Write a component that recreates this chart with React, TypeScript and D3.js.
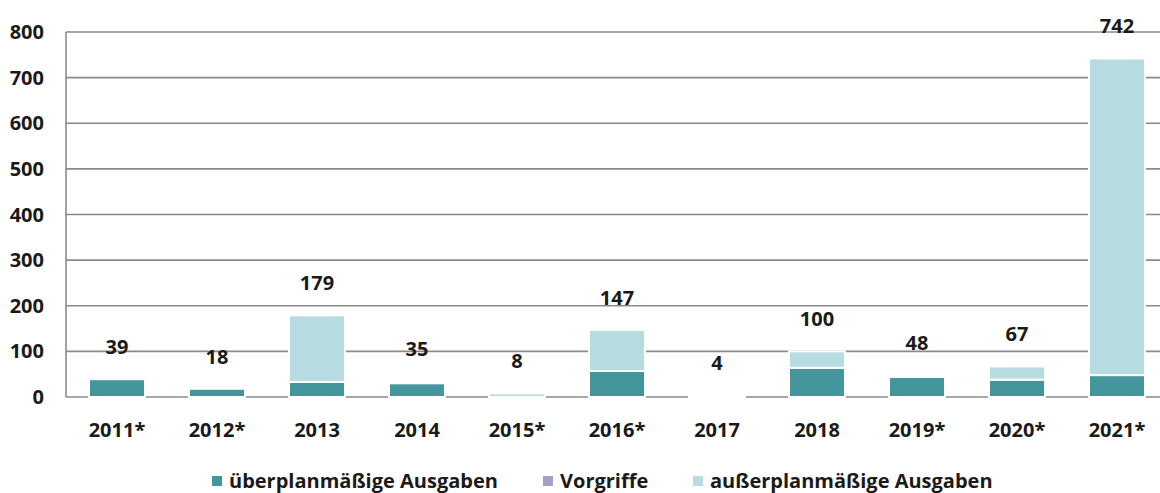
import React from "react";
import * as d3 from "d3";

const categories = ["2011*", "2012*", "2013", "2014", "2015*", "2016*", "2017", "2018", "2019*", "2020*", "2021*"];
const ueberplan = [39, 18, 33, 30, 0, 57, 0, 64, 44, 38, 48];
const vorgriffe = [0, 0, 0, 0, 0, 0, 0, 0, 0, 0, 0];
const ausserplan = [0, 0, 146, 0, 8, 90, 4, 36, 4, 29, 694];
const totals = [39, 18, 179, 35, 8, 147, 4, 100, 48, 67, 742];
const yTicks = [0, 100, 200, 300, 400, 500, 600, 700, 800];
const seriesNames = ["überplanmäßige Ausgaben", "Vorgriffe", "außerplanmäßige Ausgaben"];
const seriesColors = ["#45959c", "#ab9cc8", "#b6dce2"];

const W = 1160;
const H = 493;
const FONT = "'Open Sans', sans-serif";

export default function App() {
  const x = d3.scaleBand<string>().domain(categories).range([67, 1167]).paddingInner(0.44).paddingOuter(0.22);
  const y = d3.scaleLinear().domain([0, 800]).range([397, 32]);

  const rows = categories.map((c, i) => ({ cat: c, s0: ueberplan[i], s1: vorgriffe[i], s2: ausserplan[i] }));
  const stack = d3.stack<any>().keys(["s0", "s1", "s2"]);
  const layers = stack(rows);

  const legendX = [212, 543, 693];

  return (
    <svg width={W} height={H} style={{ position: "absolute", left: 0, top: 0, background: "#fff" }}>
      <rect x={0} y={0} width={W} height={H} fill="#fff" />
      {yTicks.map((t) => (
        <g key={t}>
          <line x1={66} x2={W} y1={y(t)} y2={y(t)} stroke="#8a8a8a" strokeWidth={1.6} />
          <text x={44} y={y(t)} dy="0.35em" textAnchor="end" fontFamily={FONT} fontWeight={700} fontSize={20} fill="#1a1a1a">
            {t}
          </text>
        </g>
      ))}
      <line x1={66} x2={66} y1={y(800)} y2={y(0)} stroke="#8a8a8a" strokeWidth={1.6} />
      {layers.map((layer, li) => (
        <g key={li}>
          {layer.map((d, i) => {
            const h = y(d[0]) - y(d[1]);
            if (h <= 0) return null;
            return (
              <rect
                key={i}
                x={x(categories[i])}
                y={y(d[1])}
                width={x.bandwidth()}
                height={h}
                fill={seriesColors[li]}
                stroke="#fff"
                strokeWidth={2}
              />
            );
          })}
        </g>
      ))}
      {categories.map((c, i) => (
        <text
          key={c}
          x={(x(c) as number) + x.bandwidth() / 2}
          y={y(totals[i]) - 32}
          dy="0.35em"
          textAnchor="middle"
          fontFamily={FONT}
          fontWeight={700}
          fontSize={20}
          fill="#1a1a1a"
        >
          {totals[i]}
        </text>
      ))}
      {categories.map((c) => (
        <text
          key={"l" + c}
          x={(x(c) as number) + x.bandwidth() / 2}
          y={430}
          dy="0.35em"
          textAnchor="middle"
          fontFamily={FONT}
          fontWeight={700}
          fontSize={20}
          fill="#1a1a1a"
        >
          {c}
        </text>
      ))}
      {seriesNames.map((n, i) => (
        <g key={n} transform={`translate(${legendX[i]},481)`}>
          <rect x={0} y={-5} width={10} height={10} fill={seriesColors[i]} />
          <text x={17} y={0} dy="0.35em" fontFamily={FONT} fontWeight={700} fontSize={20} fill="#1a1a1a">
            {n}
          </text>
        </g>
      ))}
    </svg>
  );
}
